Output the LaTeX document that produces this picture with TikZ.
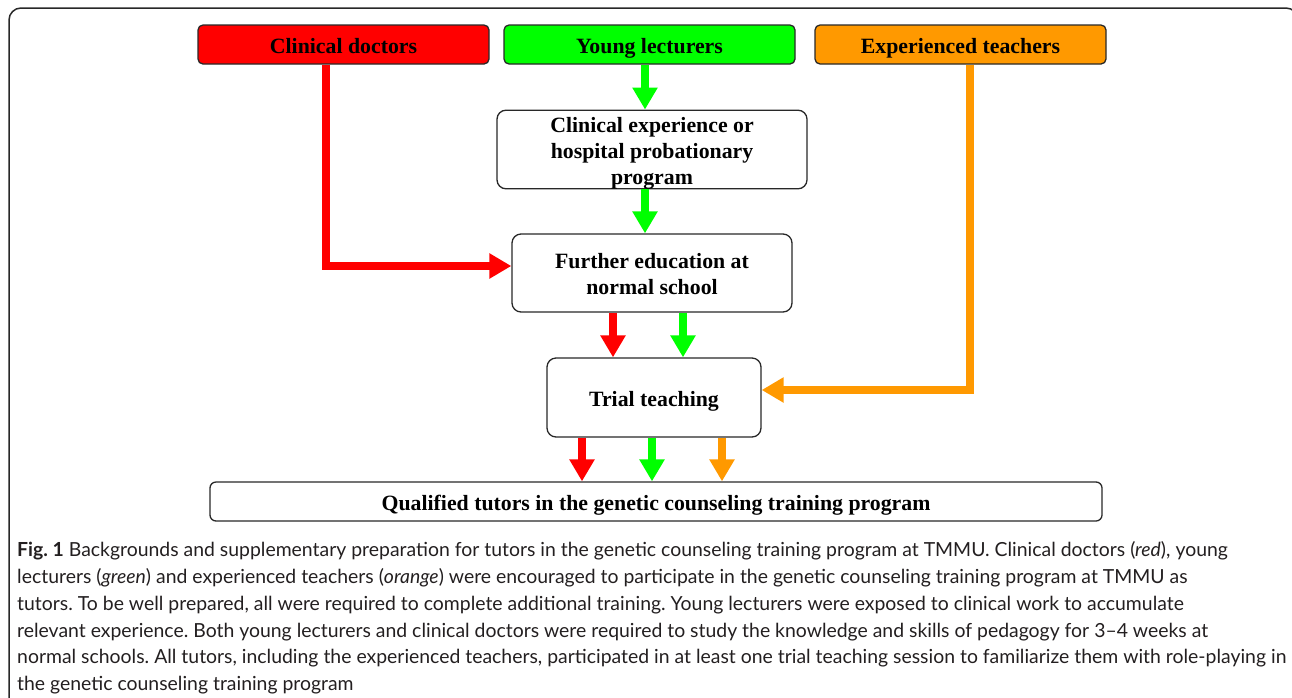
\documentclass[tikz,border=0pt]{standalone}
\usepackage{fontspec}
\setmainfont{Liberation Serif}
\newfontfamily\capfont{Lato}
\usetikzlibrary{arrows.meta}
\definecolor{cred}{RGB}{255,0,0}
\definecolor{cgreen}{RGB}{0,255,0}
\definecolor{corange}{RGB}{255,153,0}
\definecolor{bord}{RGB}{40,40,40}
\definecolor{captxt}{RGB}{35,31,32}
\begin{document}
\begin{tikzpicture}[x=1pt,y=-1pt,
  box/.style={draw=bord, line width=1.3pt, rounded corners=9pt, align=center, inner sep=0pt,
    font=\fontsize{21.8}{26}\selectfont\bfseries},
  oneline/.style={box, text height=20pt, text depth=3pt},
  topbox/.style={oneline, rounded corners=5pt, minimum width=291pt, minimum height=39pt},
  flow/.style={line width=7.5pt, -{Triangle[width=24pt,length=22pt]}, line join=miter}]
\useasboundingbox (0,0) rectangle (1292,697);
\clip (0,0) rectangle (1292,697);
\draw[line width=1.5pt, draw=bord, rounded corners=12pt] (9,720) -- (9,8) -- (1298,8) -- (1298,720);

\node[topbox, fill=cred] (cd) at (343.5,44.5) {Clinical doctors};
\node[topbox, fill=cgreen] (yl) at (649.5,44.5) {Young lecturers};
\node[topbox, fill=corange] (et) at (960.5,44.5) {Experienced teachers};

\node[box, minimum width=310pt, minimum height=77pt] (ce) at (652,149.5) {\rule{0pt}{21.8pt}Clinical experience or\\hospital probationary\\program};
\node[box, minimum width=280pt, minimum height=78pt] (fe) at (652,273) {\rule{0pt}{17.8pt}Further education at\\normal school};
\node[oneline, minimum width=214pt, minimum height=79pt] (tt) at (654,397.5) {Trial teaching};
\node[oneline, rounded corners=6pt, minimum width=892pt, minimum height=39pt] (qt) at (656,501.5) {Qualified tutors in the genetic counseling training program};

\draw[flow, cgreen] ([xshift=-4.5pt]yl.south) -- ([xshift=-7pt]ce.north);
\draw[flow, cgreen] ([xshift=-7pt]ce.south) -- ([xshift=-7pt]fe.north);
\draw[flow, cred] ([xshift=-17.5pt]cd.south) |- ([yshift=7pt]fe.west);
\draw[flow, cred] ([xshift=-39pt]fe.south) -- ([xshift=-41pt]tt.north);
\draw[flow, cgreen] ([xshift=31pt]fe.south) -- ([xshift=29pt]tt.north);
\draw[flow, corange] ([xshift=9.5pt]et.south) |- ([yshift=7.5pt]tt.east);
\draw[flow, cred] ([xshift=-72pt]tt.south) -- ([xshift=-74pt]qt.north);
\draw[flow, cgreen] ([xshift=-2pt]tt.south) -- ([xshift=-4pt]qt.north);
\draw[flow, corange] ([xshift=68pt]tt.south) -- ([xshift=66pt]qt.north);

\node[anchor=north west, align=left, inner sep=0pt, text=captxt,
  font=\capfont\frenchspacing\fontsize{19.4}{26.8}\selectfont] (cap) at (17,541.5)
 {\textbf{Fig. 1} Backgrounds and supplementary preparation for tutors in the genetic counseling training program at TMMU. Clinical doctors (\textit{red}), young\\
 lecturers (\textit{green}) and experienced teachers (\textit{orange}) were encouraged to participate in the genetic counseling training program at TMMU as\\
 tutors. To be well prepared, all were required to complete additional training. Young lecturers were exposed to clinical work to accumulate\\
 relevant experience. Both young lecturers and clinical doctors were required to study the knowledge and skills of pedagogy for 3\textendash 4 weeks at\\
 normal schools. All tutors, including the experienced teachers, participated in at least one trial teaching session to familiarize them with role-playing in\\
 the genetic counseling training program};
\end{tikzpicture}
\end{document}
